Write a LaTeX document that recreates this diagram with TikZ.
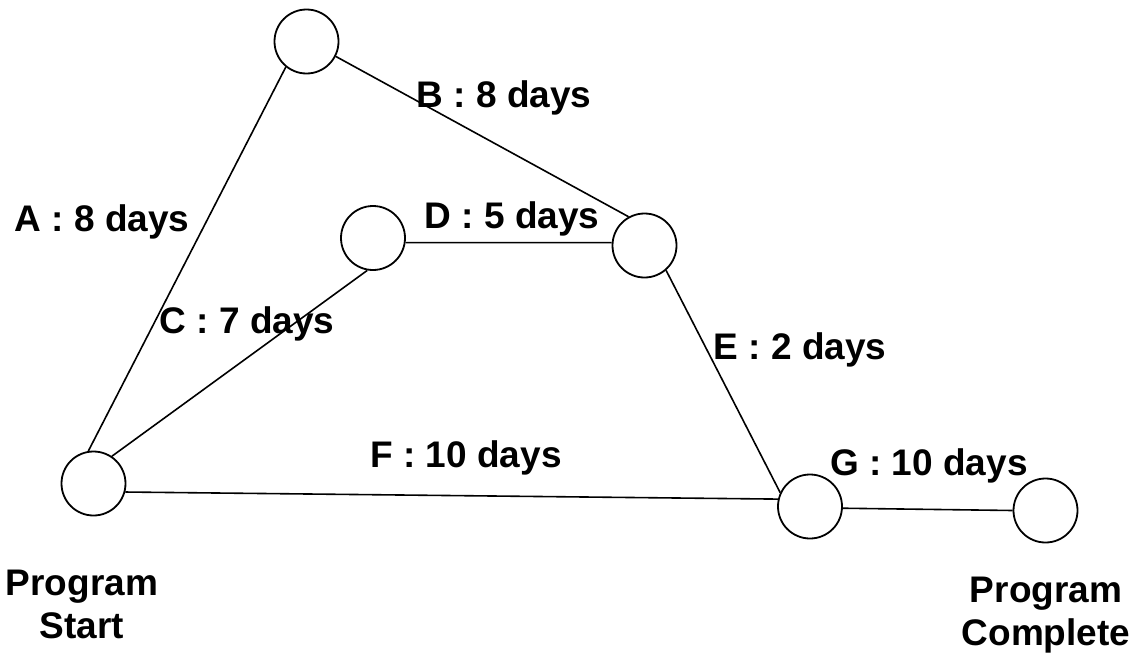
\documentclass[tikz,border=0pt]{standalone}
\usepackage{fontspec}
\setmainfont{Liberation Sans}
\begin{document}
\begin{tikzpicture}[x=1pt,y=-1pt,
  event/.style={draw,circle,line width=1.8pt,minimum size=64pt,inner sep=0pt},
  conn/.style={line width=1.6pt},
  lbl/.style={font=\fontsize{37}{44}\selectfont\bfseries,inner sep=0pt},
  captext/.style={font=\fontsize{37}{43}\selectfont\bfseries,align=center,inner sep=0pt}]
\useasboundingbox (0,0) rectangle (1133,653);
\node[event] (s) at (93.5,483.5) {};
\node[event] (t) at (306.5,41.5) {};
\node[event] (d) at (373,238) {};
\node[event] (m) at (644.5,245.5) {};
\node[event] (g) at (810,506.5) {};
\node[event] (e) at (1045.5,510.5) {};
\draw[conn] (s.99) -- (t.231);
\draw[conn] (t.333) -- (m.119);
\draw[conn] (s.56) -- (d.260);
\draw[conn] (d.352) -- (m.175);
\draw[conn] (m.311) -- (g.155);
\draw[conn] (s.345) -- (g.167);
\draw[conn] (g.357) -- (e.180);
\node[lbl] (la) at (102,222) {A : 8 days};
\node[lbl] (lb) at (504,98) {B : 8 days};
\node[lbl] (lc) at (247,324) {C : 7 days};
\node[lbl] (ld) at (512,219) {D : 5 days};
\node[lbl] (le) at (800,350) {E : 2 days};
\node[lbl] (lf) at (466,458) {F : 10 days};
\node[lbl] (lg) at (929,466) {G : 10 days};
\node[captext] (ps) at (82,604) {Program\\Start};
\node[captext] (pc) at (1046,615) {Program\\Complete};
\end{tikzpicture}
\end{document}
